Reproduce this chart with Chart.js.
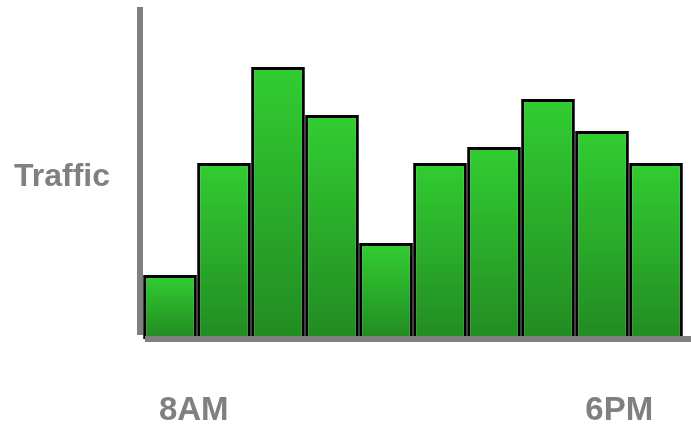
<!DOCTYPE html>
<html lang="en">
<head>
<meta charset="UTF-8">
<title>Traffic</title>
<script src="https://cdn.jsdelivr.net/npm/chart.js"></script>
<style>
  html, body { margin: 0; padding: 0; background: #fff; }
  #wrap { width: 691px; height: 425px; }
</style>
</head>
<body>
<div id="wrap"><canvas id="trafficChart"></canvas></div>
<script>
// hourly traffic, one bar per hour
var hours = ['8AM', '9AM', '10AM', '11AM', '12PM', '1PM', '2PM', '3PM', '4PM', '5PM'];
var traffic = [4, 11, 17, 14, 6, 11, 12, 15, 13, 11];
var axisTitle = 'Traffic';
var tickLabels = ['8AM', '6PM'];
var tickAt = [0.44, 8.32];   // where the two time labels sit on the x scale

var GREY = '#808080';

// each bar fades from lime at the top to forest green at the base
function barFill(ctx) {
  var chart = ctx.chart;
  if (!chart.chartArea || ctx.type !== 'data') return '#32cd32';
  var y = chart.scales.y;
  var top = y.getPixelForValue(ctx.raw);
  var base = y.getPixelForValue(0);
  var g = chart.ctx.createLinearGradient(0, top, 0, base);
  g.addColorStop(0, '#32cd32');
  g.addColorStop(1, '#228b22');
  return g;
}

// thick grey axes plus the big labels
var axesPlugin = {
  id: 'axes',
  afterDatasetsDraw: function (chart) {
    var c = chart.ctx, a = chart.chartArea, x = chart.scales.x;
    c.save();
    c.fillStyle = GREY;
    c.fillRect(a.left - 6, a.top, 6, a.bottom - a.top - 4);
    c.fillRect(a.left + 2, a.bottom - 3, chart.width - a.left - 2, 6);

    c.font = 'bold 32px "Liberation Sans", Arial, sans-serif';
    c.textAlign = 'center';
    c.textBaseline = 'alphabetic';
    c.fillText(axisTitle, 62, 186);

    c.font = 'bold 33px "Liberation Sans", Arial, sans-serif';
    for (var i = 0; i < tickLabels.length; i++) {
      c.fillText(tickLabels[i], x.getPixelForValue(tickAt[i]), 420);
    }
    c.restore();
  }
};

new Chart(document.getElementById('trafficChart'), {
  type: 'bar',
  data: {
    labels: hours,
    datasets: [{
      data: traffic,
      backgroundColor: barFill,
      borderColor: '#000',
      borderWidth: 3,
      borderSkipped: false,
      inflateAmount: 0,
      barPercentage: 0.995,
      categoryPercentage: 1
    }]
  },
  options: {
    responsive: true,
    maintainAspectRatio: false,
    animation: false,
    layout: { padding: { left: 143, right: 8, top: 7, bottom: 86 } },
    plugins: { legend: { display: false }, tooltip: { enabled: false } },
    scales: {
      x: { display: false },
      y: { display: false, min: 0, max: 20.75 }
    }
  },
  plugins: [axesPlugin]
});
</script>
</body>
</html>
